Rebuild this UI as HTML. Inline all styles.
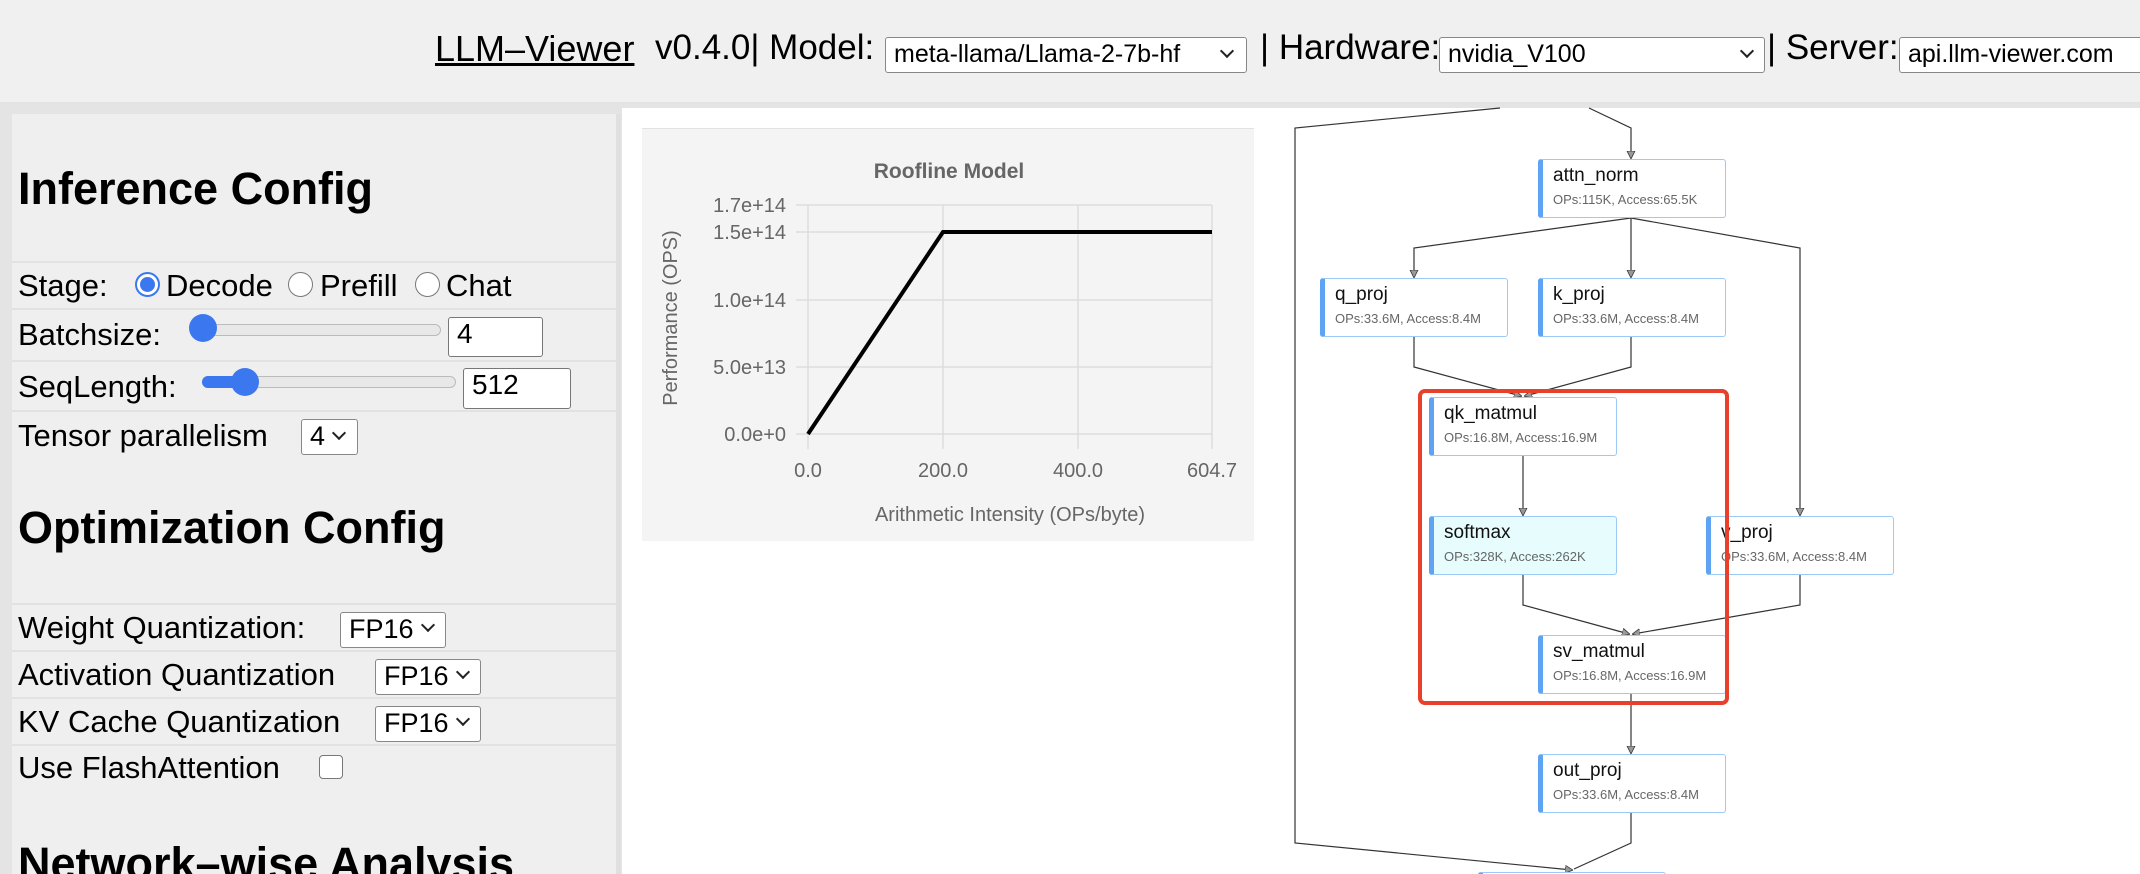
<!DOCTYPE html>
<html style="width:2140px;height:874px;overflow:hidden"><head><meta charset="utf-8"><style>
*{margin:0;padding:0;box-sizing:border-box}
body{width:2140px;height:874px;overflow:hidden;font-family:"Liberation Sans",Arial,sans-serif;color:#000}
#w{position:relative;width:2140px;height:874px;overflow:hidden;background:#e4e4e4}
.a{position:absolute;white-space:nowrap}
.hdr{left:0;top:0;width:2140px;height:102px;background:#f0f0f0}
.sel{position:absolute;background:#fff;border:1.5px solid #888;border-radius:3px;font-size:25px;padding-left:8px;line-height:33px;overflow:hidden;white-space:nowrap}
.chev{position:absolute;width:10px;height:10px;border-right:2px solid #222;border-bottom:2px solid #222;transform:rotate(45deg)}
.panel{left:12px;top:114px;width:609px;height:760px;background:#efefef;border-right:5px solid #e0e0e0}
.line{position:absolute;left:12px;width:604px;height:2px;background:#e2e2e2}
.t{position:absolute;font-size:31px;white-space:nowrap}
.h{position:absolute;font-size:45px;font-weight:bold;white-space:nowrap}
.inp{position:absolute;background:#fff;border:1.5px solid #777;border-radius:3px;font-size:28px;padding-left:8px}
.main{left:622px;top:108px;width:1518px;height:766px;background:#fff}
.node{position:absolute;width:188px;height:59px;border:1.5px solid #9ccaf7;border-left:5px solid #5ea4f2;border-radius:3px;background:#fff}
.node b{position:absolute;left:10px;top:5px;font-weight:normal;font-size:19px;color:#111}
.node i{position:absolute;left:10px;top:32px;font-style:normal;font-size:13px;color:#666}
</style></head><body><div id="w">
<div class="a hdr"></div>
<div class="a" style="left:435px;top:28px;font-size:36px;text-decoration:underline">LLM–Viewer</div>
<div class="a" style="left:655px;top:28px;font-size:35px">v0.4.0| Model:</div>
<div class="sel" style="left:885px;top:37px;width:362px;height:36px">meta-llama/Llama-2-7b-hf</div><div class="chev" style="left:1222px;top:46px"></div>
<div class="a" style="left:1260px;top:28px;font-size:35px">| Hardware:</div>
<div class="sel" style="left:1439px;top:37px;width:326px;height:36px">nvidia_V100</div><div class="chev" style="left:1742px;top:46px"></div>
<div class="a" style="left:1767px;top:28px;font-size:35px">| Server:</div>
<div class="sel" style="left:1899px;top:37px;width:260px;height:36px">api.llm-viewer.com</div>

<div class="a panel"></div>
<div class="h" style="left:18px;top:163px">Inference Config</div>
<div class="line" style="top:261px"></div><div class="line" style="top:308px"></div><div class="line" style="top:360px"></div><div class="line" style="top:410px"></div>
<div class="t" style="left:18px;top:268px">Stage:</div>
<div class="a" style="left:135px;top:272px;width:25px;height:25px;border-radius:50%;border:2px solid #3b78f0;background:#fff"><div style="position:absolute;left:3px;top:3px;width:15px;height:15px;border-radius:50%;background:#3b78f0"></div></div>
<div class="t" style="left:166px;top:268px">Decode</div>
<div class="a" style="left:288px;top:272px;width:25px;height:25px;border-radius:50%;border:1.5px solid #777;background:#fff"></div>
<div class="t" style="left:320px;top:268px">Prefill</div>
<div class="a" style="left:415px;top:272px;width:25px;height:25px;border-radius:50%;border:1.5px solid #777;background:#fff"></div>
<div class="t" style="left:446px;top:268px">Chat</div>

<div class="t" style="left:18px;top:317px">Batchsize:</div>
<div class="a" style="left:190px;top:324px;width:251px;height:12px;border-radius:6px;background:#e8e8e8;border:1.5px solid #bbb"></div>
<div class="a" style="left:189px;top:314px;width:28px;height:28px;border-radius:50%;background:#3b78f0"></div>
<div class="inp" style="left:448px;top:317px;width:95px;height:40px">4</div>

<div class="t" style="left:18px;top:369px">SeqLength:</div>
<div class="a" style="left:202px;top:376px;width:254px;height:12px;border-radius:6px;background:#e8e8e8;border:1.5px solid #bbb"></div>
<div class="a" style="left:202px;top:376px;width:45px;height:12px;border-radius:6px;background:#3b78f0"></div>
<div class="a" style="left:231px;top:368px;width:28px;height:28px;border-radius:50%;background:#3b78f0"></div>
<div class="inp" style="left:463px;top:368px;width:108px;height:41px">512</div>

<div class="t" style="left:18px;top:418px">Tensor parallelism</div>
<div class="sel" style="left:301px;top:419px;width:57px;height:36px;font-size:27px">4</div><div class="chev" style="left:334px;top:428px"></div>

<div class="h" style="left:18px;top:502px">Optimization Config</div>
<div class="line" style="top:603px"></div><div class="line" style="top:650px"></div><div class="line" style="top:697px"></div><div class="line" style="top:744px"></div>
<div class="t" style="left:18px;top:610px">Weight Quantization:</div>
<div class="sel" style="left:340px;top:612px;width:106px;height:36px;font-size:27px">FP16</div><div class="chev" style="left:423px;top:620px"></div>
<div class="t" style="left:18px;top:657px">Activation Quantization</div>
<div class="sel" style="left:375px;top:659px;width:106px;height:36px;font-size:27px">FP16</div><div class="chev" style="left:458px;top:667px"></div>
<div class="t" style="left:18px;top:704px">KV Cache Quantization</div>
<div class="sel" style="left:375px;top:706px;width:106px;height:36px;font-size:27px">FP16</div><div class="chev" style="left:458px;top:714px"></div>
<div class="t" style="left:18px;top:750px">Use FlashAttention</div>
<div class="a" style="left:319px;top:755px;width:24px;height:24px;border:1.5px solid #777;border-radius:4px;background:#fff"></div>
<div class="h" style="left:18px;top:838px">Network–wise Analysis</div>

<div class="a main"></div>
<svg class="a" style="left:0;top:0" width="2140" height="874" font-family="Liberation Sans, Arial, sans-serif">
<rect x="642" y="128" width="612" height="413" fill="#f4f4f4"/>
<line x1="642" y1="128.5" x2="1254" y2="128.5" stroke="#e2e2e2"/>
<text x="949" y="178" text-anchor="middle" font-size="21" font-weight="bold" fill="#666">Roofline Model</text>
<g stroke="#ddd" stroke-width="1.5">
<line x1="796" y1="205" x2="1212" y2="205"/><line x1="796" y1="232" x2="1212" y2="232"/><line x1="796" y1="300" x2="1212" y2="300"/><line x1="796" y1="367" x2="1212" y2="367"/><line x1="796" y1="434" x2="1212" y2="434"/>
<line x1="808" y1="205" x2="808" y2="449"/><line x1="943" y1="205" x2="943" y2="449"/><line x1="1078" y1="205" x2="1078" y2="449"/><line x1="1212" y1="205" x2="1212" y2="449"/>
</g>
<g font-size="20" fill="#666" text-anchor="end">
<text x="786" y="212">1.7e+14</text><text x="786" y="239">1.5e+14</text><text x="786" y="307">1.0e+14</text><text x="786" y="374">5.0e+13</text><text x="786" y="441">0.0e+0</text></g>
<g font-size="20" fill="#666" text-anchor="middle">
<text x="808" y="477">0.0</text><text x="943" y="477">200.0</text><text x="1078" y="477">400.0</text><text x="1212" y="477">604.7</text>
<text x="1010" y="521">Arithmetic Intensity (OPs/byte)</text>
<text transform="translate(677,318) rotate(-90)">Performance (OPS)</text></g>
<polyline points="808,434 943,232 1212,232" fill="none" stroke="#000" stroke-width="4"/>

<defs><marker id="ar" markerWidth="8" markerHeight="10" refX="7" refY="5" orient="auto" markerUnits="userSpaceOnUse"><path d="M0,1 L8,5 L0,9 z" fill="#999" stroke="#333" stroke-width="0.8"/></marker></defs>
<g fill="none" stroke="#333" stroke-width="1.2" marker-end="url(#ar)">
<polyline points="1500,108 1295,128 1295,843 1572,870"/>
<polyline points="1589,108 1631,128 1631,158"/>
<polyline points="1631,218 1414,248 1414,277"/>
<polyline points="1631,218 1631,277"/>
<polyline points="1631,218 1800,248 1800,515"/>
<polyline points="1414,337 1414,367 1521,396"/>
<polyline points="1631,337 1631,367 1525,396"/>
<polyline points="1523,456 1523,515"/>
<polyline points="1523,575 1523,605 1629,634"/>
<polyline points="1800,575 1800,605 1633,634"/>
<polyline points="1631,694 1631,753"/>
<polyline points="1631,813 1631,843 1574,869" marker-end="none"/>
</g>
</svg>
<div class="node" style="left:1538px;top:159px"><b>attn_norm</b><i>OPs:115K, Access:65.5K</i></div>
<div class="node" style="left:1320px;top:278px"><b>q_proj</b><i>OPs:33.6M, Access:8.4M</i></div>
<div class="node" style="left:1538px;top:278px"><b>k_proj</b><i>OPs:33.6M, Access:8.4M</i></div>
<div class="node" style="left:1429px;top:397px"><b>qk_matmul</b><i>OPs:16.8M, Access:16.9M</i></div>
<div class="node" style="left:1429px;top:516px;background:#e6fcfd"><b>softmax</b><i>OPs:328K, Access:262K</i></div>
<div class="node" style="left:1706px;top:516px"><b>v_proj</b><i>OPs:33.6M, Access:8.4M</i></div>
<div class="node" style="left:1538px;top:635px"><b>sv_matmul</b><i>OPs:16.8M, Access:16.9M</i></div>
<div class="node" style="left:1538px;top:754px"><b>out_proj</b><i>OPs:33.6M, Access:8.4M</i></div>
<div class="node" style="left:1478px;top:872px"></div>
<div class="a" style="left:1418px;top:389px;width:311px;height:316px;border:4px solid #e8402a;border-radius:7px"></div>
</div></body></html>
